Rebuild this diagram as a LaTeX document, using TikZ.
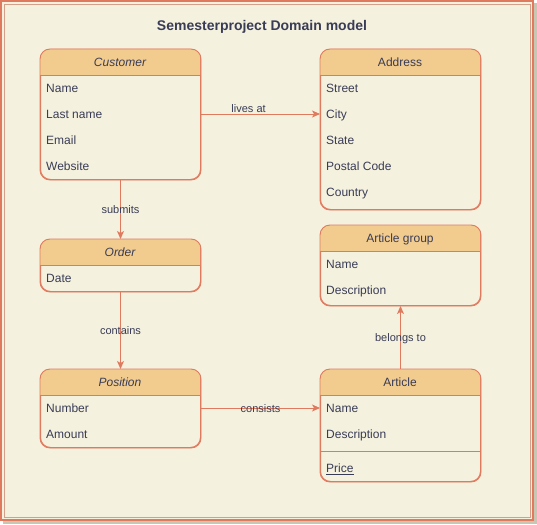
\documentclass[tikz,border=0pt]{standalone}
\usepackage{fontspec}
\setmainfont{Liberation Sans}
\usetikzlibrary{arrows.meta}
\definecolor{bgc}{HTML}{F4F1DE}
\definecolor{hdr}{HTML}{F2CC8F}
\definecolor{strk}{HTML}{E07A5F}
\definecolor{txt}{HTML}{393C56}
\definecolor{shadowc}{HTML}{C9C6B4}
\tikzset{
  box/.style={draw=strk, line width=1pt, rounded corners=10pt, rectangle, inner sep=0pt, anchor=north west},
  row/.style={anchor=west, text=txt, font=\fontsize{12}{14}\selectfont, inner sep=0pt, text height=9.5pt, text depth=0pt},
  hdtext/.style={text=txt, font=\fontsize{12}{14}\selectfont, inner sep=0pt, text height=9.5pt, text depth=0pt},
  conn/.style={draw=strk, line width=0.9pt, -{Stealth[length=8pt,width=7pt,inset=2pt]}},
  lbl/.style={text=txt, font=\fontsize{11}{13}\selectfont, inner sep=0pt, text height=8.5pt, text depth=0pt},
}
\newcommand{\mkbox}[5]{% name, x, y, w, h
  \node[box, minimum width=#4, minimum height=#5] (#1) at (#2,#3) {};
  \begin{scope}
    \clip (#2,#3) rectangle (#2+#4,#3+26);
    \fill[hdr, rounded corners=10pt] (#1.north west) rectangle (#1.south east);
  \end{scope}
  \draw[strk, line width=0.9pt, rounded corners=10pt] (#1.north west) rectangle (#1.south east);
  \draw[strk, line width=0.9pt] (#2,#3+26) -- (#2+#4,#3+26);
}
\begin{document}
\begin{tikzpicture}[x=1pt,y=-1pt]
\useasboundingbox (0,0) rectangle (537,524);
% frame
\fill[shadowc] (3,3) rectangle (537,524);
\fill[bgc] (0,0) rectangle (534,521);
\draw[strk, line width=2pt] (1,1) rectangle (533,520);
\draw[strk!50!shadowc, line width=0.8pt] (4,4) rectangle (530,517);
% title
\node[text=txt, font=\fontsize{14}{16}\selectfont\bfseries, inner sep=0pt, text height=10.5pt, text depth=0pt] (title) at (262,25) {Semesterproject Domain model};
% Customer
\mkbox{cust}{40}{49}{160}{130}
\node[hdtext, font=\fontsize{12}{14}\selectfont\itshape] (custh) at (120,62) {Customer};
\node[row] (c1) at (46,88) {Name};
\node[row] (c2) at (46,114) {Last name};
\node[row] (c3) at (46,140) {Email};
\node[row] (c4) at (46,166) {Website};
% Address
\mkbox{addr}{320}{49}{160}{160}
\node[hdtext] (addrh) at (400,62) {Address};
\node[row] (a1) at (326,88) {Street};
\node[row] (a2) at (326,114) {City};
\node[row] (a3) at (326,140) {State};
\node[row] (a4) at (326,166) {Postal Code};
\node[row] (a5) at (326,192) {Country};
% Order
\mkbox{ord}{40}{239}{160}{52}
\node[hdtext, font=\fontsize{12}{14}\selectfont\itshape] (ordh) at (120,252) {Order};
\node[row] (o1) at (46,278) {Date};
% Article group
\mkbox{agrp}{320}{225}{160}{80}
\node[hdtext] (agrph) at (400,238) {Article group};
\node[row] (g1) at (326,264) {Name};
\node[row] (g2) at (326,290) {Description};
% Position
\mkbox{pos}{40}{369}{160}{78}
\node[hdtext, font=\fontsize{12}{14}\selectfont\itshape] (posh) at (120,382) {Position};
\node[row] (p1) at (46,408) {Number};
\node[row] (p2) at (46,434) {Amount};
% Article
\mkbox{art}{320}{369}{160}{112}
\node[hdtext] (arth) at (400,382) {Article};
\node[row] (r1) at (326,408) {Name};
\node[row] (r2) at (326,434) {Description};
\draw[strk, line width=0.9pt] (art.west |- 0,451) -- (art.east |- 0,451);
\node[row] (r3) at (326,468) {\underline{Price}};
% connectors
\draw[conn] (cust.east |- c2) -- node[lbl, pos=0.4, yshift=6pt] {lives at} (addr.west |- a2);
\draw[conn] (cust.south) -- node[lbl] {submits} (ord.north);
\draw[conn] (ord.south) -- node[lbl] {contains} (pos.north);
\draw[conn] (pos.east |- p1) -- node[lbl, pos=0.5] {consists} (art.west |- r1);
\draw[conn] (art.north) -- node[lbl] {belongs to} (agrp.south);
\end{tikzpicture}
\end{document}
